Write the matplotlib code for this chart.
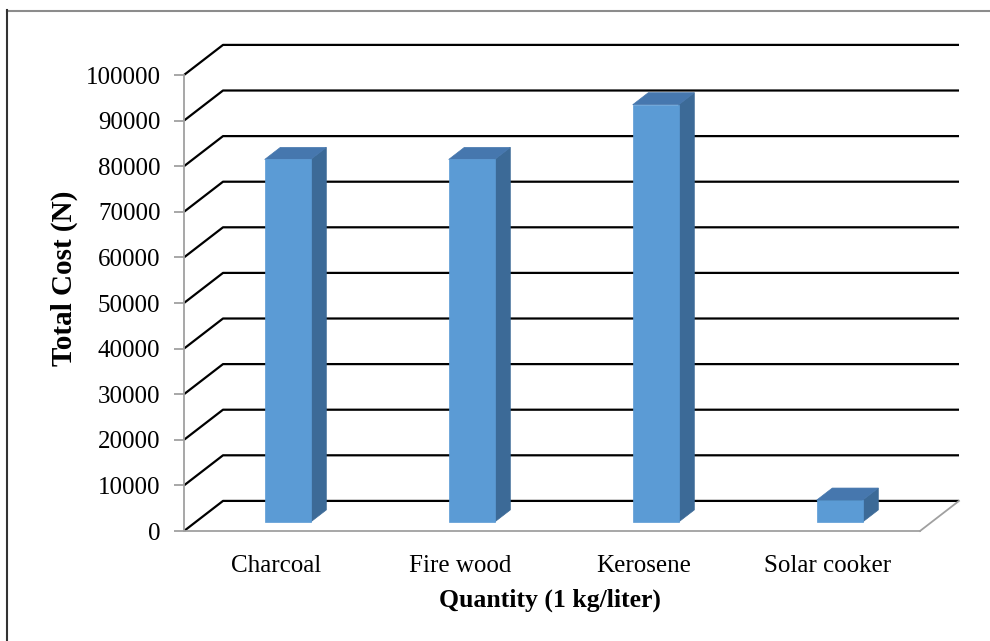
import matplotlib
matplotlib.use("Agg")
import matplotlib.pyplot as plt
from matplotlib.patches import Polygon
from matplotlib.lines import Line2D

plt.rcParams['font.family'] = ['Liberation Serif', 'DejaVu Serif']

# data
fuels = ['Charcoal', 'Fire wood', 'Kerosene', 'Solar cooker']
total_cost = [79500, 79500, 91500, 4800]
yticks = list(range(0, 100001, 10000))

# oblique depth of the plot box (category units, value units)
DX = 0.212
DY = 6600
bar_w = 0.25
d0, d1 = 0.3, 0.7   # bar sits between these fractions of the depth

c_front = '#5b9bd5'
c_top = '#4677ae'
c_side = '#3c6a97'

fig = plt.figure(figsize=(9.9, 6.41), dpi=100)
ax = fig.add_axes([184/990, 110/641, 736/990, 456/641])
ax.set_xlim(-0.5, len(fuels) - 0.5)
ax.set_ylim(0, 100000)
ax.patch.set_alpha(0)

for s in ['top', 'right']:
    ax.spines[s].set_visible(False)
ax.spines['left'].set_color('#a0a0a0')
ax.spines['left'].set_linewidth(1.3)
ax.spines['bottom'].set_color('#a0a0a0')
ax.spines['bottom'].set_linewidth(1.3)

x_l, x_r = -0.5, len(fuels) - 0.5

# back wall gridlines with the left wall diagonals
for v in yticks:
    ax.plot([x_l, x_l + DX, x_r + DX], [v, v + DY, v + DY],
            color='black', lw=1.6, clip_on=False, zorder=1,
            solid_capstyle='butt')
# right edge of the floor
ax.plot([x_r, x_r + DX], [0, DY], color='#a0a0a0', lw=1.3, clip_on=False, zorder=1)

# 3d bars
ddx = (d1 - d0) * DX
ddy = (d1 - d0) * DY
for i, v in enumerate(total_cost):
    x0 = i - bar_w / 2 + d0 * DX
    b0 = d0 * DY
    x1 = x0 + bar_w
    side = [(x1, b0), (x1 + ddx, b0 + ddy), (x1 + ddx, b0 + v + ddy), (x1, b0 + v)]
    top = [(x0, b0 + v), (x1, b0 + v), (x1 + ddx, b0 + v + ddy), (x0 + ddx, b0 + v + ddy)]
    front = [(x0, b0), (x1, b0), (x1, b0 + v), (x0, b0 + v)]
    for pts, c in [(side, c_side), (top, c_top), (front, c_front)]:
        ax.add_patch(Polygon(pts, closed=True, facecolor=c, edgecolor=c,
                             lw=0.5, clip_on=False, zorder=3))

ax.set_yticks(yticks)
ax.set_yticklabels([str(t) for t in yticks], fontsize=18)
ax.tick_params(axis='y', length=7, width=1.3, color='#a0a0a0', pad=10)
ax.set_xticks(range(len(fuels)))
ax.set_xticklabels(fuels, fontsize=18)
ax.tick_params(axis='x', length=0, pad=17)

fig.text(550/990, 1 - 607/641, 'Quantity (1 kg/liter)', fontsize=18.5,
         fontweight='bold', ha='center', va='baseline')
fig.text(64/990, 1 - 278/641, 'Total Cost (N)', fontsize=21,
         fontweight='bold', rotation=90, ha='center', va='center')

# outer frame
fig.add_artist(Line2D([7/990, 1], [1 - 10.5/641] * 2, color='#8c8c8c', lw=1.5))
fig.add_artist(Line2D([7/990] * 2, [0, 1 - 10/641], color='#333333', lw=1.5))

fig.savefig('out.png', dpi=100)
